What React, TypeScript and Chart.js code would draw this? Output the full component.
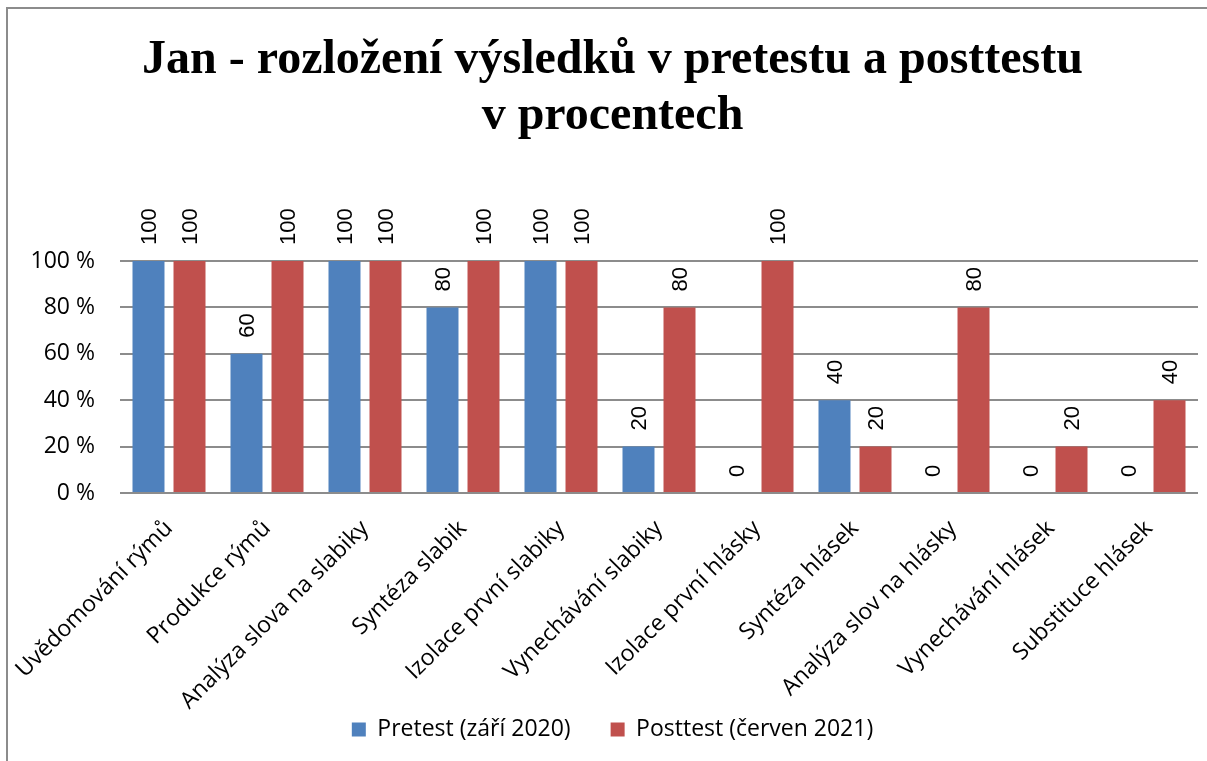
import React, { useEffect, useRef } from "react";
import { Chart, registerables } from "chart.js";

Chart.register(...registerables);

const categories = [
  "Uvědomování rýmů",
  "Produkce rýmů",
  "Analýza slova na slabiky",
  "Syntéza slabik",
  "Izolace první slabiky",
  "Vynechávání slabiky",
  "Izolace první hlásky",
  "Syntéza hlásek",
  "Analýza slov na hlásky",
  "Vynechávání hlásek",
  "Substituce hlásek",
];
const pretest = [100, 60, 100, 80, 100, 20, 0, 40, 0, 0, 0];
const posttest = [100, 100, 100, 100, 100, 80, 100, 20, 80, 20, 40];
const seriesNames = ["Pretest (září 2020)", "Posttest (červen 2021)"];
const titleLines = ["Jan - rozložení výsledků v pretestu a posttestu", "v procentech"];
const yTicks = [0, 20, 40, 60, 80, 100];

const W = 1207;
const H = 761;

const framePlugin = {
  id: "frame",
  beforeDraw(chart: any) {
    const ctx = chart.ctx;
    ctx.save();
    ctx.fillStyle = "#ffffff";
    ctx.fillRect(0, 0, chart.width, chart.height);
    ctx.strokeStyle = "#8c8c8c";
    ctx.lineWidth = 2;
    ctx.strokeRect(7, 8, chart.width + 20, chart.height + 20);
    ctx.restore();
  },
};

// let the rotated category labels extend below the compact x-axis box without clipping
const labelRoomPlugin = {
  id: "labelRoom",
  afterLayout(chart: any) {
    const x = chart.scales.x;
    if (x) x.bottom = x.top + 240;
  },
};

const labelPlugin = {
  id: "valueLabels",
  afterDatasetsDraw(chart: any) {
    const ctx = chart.ctx;
    ctx.save();
    ctx.fillStyle = "#000000";
    ctx.font = "22px 'Liberation Sans', Arial, sans-serif";
    ctx.textAlign = "left";
    ctx.textBaseline = "middle";
    chart.data.datasets.forEach((ds: any, di: number) => {
      const meta = chart.getDatasetMeta(di);
      meta.data.forEach((bar: any, i: number) => {
        const v = ds.data[i];
        ctx.save();
        ctx.translate(bar.x, bar.y - 16);
        ctx.rotate(-Math.PI / 2);
        ctx.fillText(String(v), 0, 1);
        ctx.restore();
      });
    });
    ctx.restore();
  },
};

export default function App() {
  const ref = useRef<HTMLCanvasElement | null>(null);
  useEffect(() => {
    if (!ref.current) return;
    const chart = new Chart(ref.current, {
      type: "bar",
      data: {
        labels: categories,
        datasets: [
          {
            label: seriesNames[0],
            data: pretest,
            backgroundColor: "#4F81BD",
            categoryPercentage: 0.837,
            barPercentage: 0.78,
          },
          {
            label: seriesNames[1],
            data: posttest,
            backgroundColor: "#C0504D",
            categoryPercentage: 0.837,
            barPercentage: 0.78,
          },
        ],
      },
      options: {
        responsive: false,
        animation: false,
        devicePixelRatio: 1,
        layout: { padding: { left: 27, right: 9, top: 0, bottom: 10 } },
        plugins: {
          title: {
            display: true,
            text: titleLines,
            color: "#000000",
            font: { family: "'Liberation Serif', 'Times New Roman', serif", size: 48, weight: "bold", lineHeight: 1.167 },
            padding: { top: 33, bottom: 116 },
          },
          legend: {
            position: "bottom",
            labels: {
              color: "#000000",
              font: { family: "'Open Sans', sans-serif", size: 23 },
              boxWidth: 14,
              boxHeight: 14,
              padding: 40,
            },
          },
          tooltip: { enabled: false },
        },
        scales: {
          x: {
            grid: { display: false },
            border: { display: false },
            ticks: {
              color: "#000000",
              font: { family: "'Open Sans', sans-serif", size: 23 },
              maxRotation: 45,
              minRotation: 45,
              autoSkip: false,
              padding: 14,
            },
            afterFit(scale: any) {
              scale.height = 185;
            },
          },
          y: {
            min: 0,
            max: 100,
            afterBuildTicks(scale: any) {
              scale.ticks = yTicks.map((v) => ({ value: v }));
            },
            grid: { color: "#8c8c8c", lineWidth: 2, drawTicks: false },
            border: { display: false },
            ticks: {
              color: "#000000",
              font: { family: "'Open Sans', sans-serif", size: 23 },
              padding: 25,
              callback: (v: any) => `${v} %`,
            },
            afterFit(scale: any) {
              scale.width = 93;
            },
          },
        },
      },
      plugins: [framePlugin, labelRoomPlugin, labelPlugin],
    });
    return () => chart.destroy();
  }, []);
  return (
    <div style={{ position: "absolute", left: 0, top: 0, width: W, height: H, overflow: "hidden" }}>
      <canvas ref={ref} width={W} height={H} style={{ width: W, height: H, display: "block" }} />
    </div>
  );
}
